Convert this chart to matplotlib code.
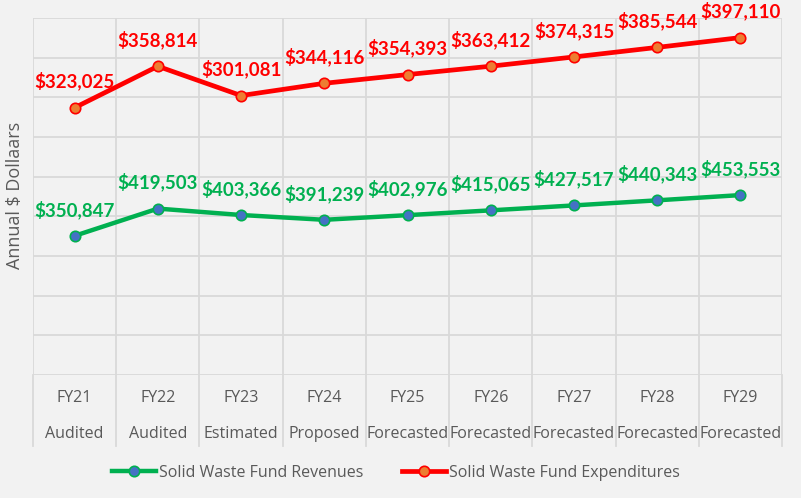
"""Solid waste fund revenues vs expenditures, stacked line chart FY21-FY29."""

import matplotlib

matplotlib.use("Agg")
import matplotlib.pyplot as plt
import matplotlib.transforms as mtransforms
import numpy as np

YEARS = ["FY21", "FY22", "FY23", "FY24", "FY25", "FY26", "FY27", "FY28", "FY29"]
STATUS = ["Audited", "Audited", "Estimated", "Proposed", "Forecasted",
          "Forecasted", "Forecasted", "Forecasted", "Forecasted"]
REVENUES = [350847, 419503, 403366, 391239, 402976, 415065, 427517, 440343, 453553]
EXPENDITURES = [323025, 358814, 301081, 344116, 354393, 363412, 374315, 385544, 397110]

BG = "#F2F2F2"
GRID = "#D9D9D9"
TEXT = "#595959"
GREEN = "#00B050"
RED = "#FF0000"

plt.rcParams["font.family"] = ["Open Sans", "DejaVu Sans"]

fig = plt.figure(figsize=(8.01, 4.98), dpi=100, facecolor=BG)
ax = fig.add_axes([33 / 801, 123 / 498, 749 / 801, 357 / 498], facecolor=BG)

x = np.arange(len(YEARS))
rev = np.array(REVENUES)
# stacked: expenditures sit on top of revenues
stack = rev + np.array(EXPENDITURES)

ax.plot(x, rev, color=GREEN, lw=3.2, marker="o", ms=7.5,
        mfc="#4472C4", mec=GREEN, mew=1.2, label="Solid Waste Fund Revenues", zorder=3)
ax.plot(x, stack, color=RED, lw=3.4, marker="o", ms=7.5,
        mfc="#ED7D31", mec=RED, mew=1.2, label="Solid Waste Fund Expenditures", zorder=3)

lab_kw = dict(xytext=(0, 19), textcoords="offset points", ha="center", va="center",
              family=["Lato", "DejaVu Sans"], fontsize=13.5, fontweight="bold")
for xi, yv, lab in zip(x, rev, REVENUES):
    ax.annotate(f"${lab:,}", (xi, yv), color=GREEN, **lab_kw)
for xi, yv, lab in zip(x, stack, EXPENDITURES):
    ax.annotate(f"${lab:,}", (xi, yv), color=RED, **lab_kw)

ax.set_xlim(-0.5, len(YEARS) - 0.5)
ax.set_ylim(0, 900000)
ax.set_yticks(np.arange(0, 900001, 100000))
ax.set_yticklabels([])
ax.set_xticks(np.arange(-0.5, len(YEARS), 1.0))
ax.set_xticklabels([])
ax.tick_params(length=0)
ax.grid(True, color=GRID, lw=1.3)
ax.set_axisbelow(True)
for spine in ax.spines.values():
    spine.set_visible(False)

# two-level category axis with separators running down through the labels
trans = mtransforms.blended_transform_factory(ax.transData, ax.transAxes)
for b in np.arange(-0.5, len(YEARS), 1.0):
    ax.plot([b, b], [0, -0.199], transform=trans, color=GRID, lw=1.3, clip_on=False)
for xi, yr, st in zip(x, YEARS, STATUS):
    ax.text(xi, -0.065, yr, transform=trans, ha="center", va="center",
            color=TEXT, fontsize=11.5)
    ax.text(xi, -0.166, st, transform=trans, ha="center", va="center",
            color=TEXT, fontsize=11.5)

fig.text(15 / 801, 1 - 195 / 498, "Annual $ Dollaars", rotation=90,
         ha="center", va="center", color=TEXT, fontsize=13)

fig.legend(loc="center", bbox_to_anchor=(0.494, 1 - 473 / 498), ncol=2,
           frameon=False, fontsize=11.5, labelcolor=TEXT, handlelength=2.75,
           columnspacing=2.4, handletextpad=0.2)

fig.savefig("out.png", dpi=100, facecolor=BG)
